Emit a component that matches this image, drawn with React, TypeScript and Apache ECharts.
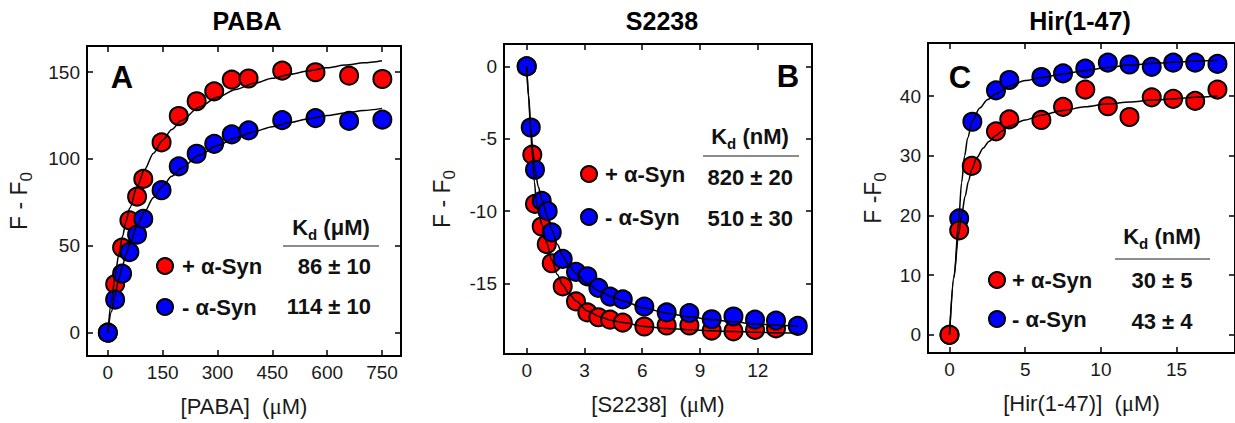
import React, { useEffect, useRef } from "react";
import * as echarts from "echarts";

const FONT = "'Liberation Sans', Arial, Helvetica, sans-serif";
const SERIF = "'Liberation Serif', 'Times New Roman', serif";
const RED = "#ff0000";
const BLUE = "#0000ff";

// ---------- Panel A: PABA ----------
const pabaX = [0, 20, 39, 59, 80, 97, 147, 194, 243, 291, 339, 385, 477, 568, 660, 751];
const pabaPlus = [0, 28, 49, 64.7, 78.3, 88.5, 109.5, 124.7, 133.2, 138.9, 145.6, 146.3, 150.8, 149.9, 147.9, 146];
const pabaMinus = [0, 19, 34, 46.4, 56.4, 65.5, 82, 95.7, 103, 108.7, 114.1, 116.4, 122.3, 123.5, 121.9, 122.6];
const pabaFitX = [0, 10, 20, 30, 40, 50, 60, 80, 100, 125, 150, 175, 200, 250, 300, 350, 400, 450, 500, 550, 600, 650, 700, 750];
const pabaFitPlus = [0, 18.2, 32.9, 45.1, 55.4, 64.1, 71.7, 84.0, 93.8, 103.3, 110.8, 116.9, 122.0, 129.8, 135.5, 140.0, 143.5, 146.4, 148.8, 150.8, 152.5, 154.0, 155.3, 156.5];
const pabaFitMinus = [0, 12.0, 22.2, 31.0, 38.6, 45.3, 51.3, 61.3, 69.5, 77.8, 84.5, 90.0, 94.7, 102.1, 107.8, 112.2, 115.7, 118.6, 121.1, 123.2, 125.0, 126.5, 127.9, 129.1];
const pabaTicksX = [0, 150, 300, 450, 600, 750];
const pabaTicksY = [0, 50, 100, 150];

// ---------- Panel B: S2238 ----------
const s2238PlusX = [0, 0.29, 0.43, 0.78, 1.04, 1.3, 1.87, 2.56, 3.15, 3.72, 4.33, 4.99, 6.11, 7.27, 8.45, 9.61, 10.74, 11.86, 12.95];
const s2238Plus = [0, -6.1, -9.5, -11.06, -12.28, -13.6, -15.2, -16.24, -17.0, -17.33, -17.5, -17.7, -17.97, -17.9, -17.9, -18.25, -18.3, -18.2, -18.1];
const s2238MinusX = [0, 0.21, 0.43, 0.78, 1.09, 1.3, 1.87, 2.56, 3.15, 3.72, 4.33, 4.99, 6.11, 7.27, 8.45, 9.61, 10.74, 11.86, 12.95, 14.08];
const s2238Minus = [0, -4.22, -7.14, -9.29, -10.0, -11.47, -13.3, -14.2, -14.5, -15.3, -15.9, -16.1, -16.6, -17.0, -17.05, -17.47, -17.28, -17.5, -17.56, -17.93];
const s2238FitPlusX = [0, 0.1, 0.2, 0.29, 0.4, 0.5, 0.65, 0.78, 1.04, 1.3, 1.6, 1.87, 2.2, 2.56, 3.15, 3.81, 4.4, 4.99, 6.11, 7.27, 8.45, 9.61, 10.74, 11.86, 12.95, 14.08];
const s2238FitPlus = [0, -2.2, -4.3, -6.1, -8.0, -9.3, -10.3, -10.9, -12.2, -13.4, -14.4, -15.1, -15.7, -16.2, -16.9, -17.3, -17.55, -17.7, -17.97, -18.1, -18.2, -18.27, -18.32, -18.36, -18.4, -18.43];
const s2238FitMinusX = [0, 0.1, 0.21, 0.32, 0.43, 0.6, 0.78, 1.09, 1.3, 1.6, 1.87, 2.2, 2.56, 3.15, 3.81, 4.4, 4.99, 6.11, 7.27, 8.45, 9.61, 10.74, 11.86, 12.95, 14.08];
const s2238FitMinus = [0, -2.0, -4.2, -5.8, -7.1, -8.3, -9.2, -10.4, -11.3, -12.3, -13.1, -13.75, -14.3, -15.0, -15.55, -15.9, -16.2, -16.7, -17.05, -17.3, -17.5, -17.65, -17.8, -17.88, -17.93];
const s2238TicksX = [0, 3, 6, 9, 12];
const s2238TicksY = [0, -5, -10, -15];

// ---------- Panel C: Hir(1-47) ----------
const hirMinusX = [0, 0.64, 1.51, 3.07, 3.95, 6.07, 7.5, 8.97, 10.46, 11.89, 13.36, 14.78, 16.23, 17.7];
const hirMinus = [0, 19.5, 35.7, 40.95, 42.7, 43.2, 43.8, 44.6, 45.6, 45.3, 44.9, 45.6, 45.6, 45.4];
const hirPlusX = [0, 0.64, 1.47, 3.07, 3.95, 6.07, 7.5, 8.97, 10.46, 11.89, 13.36, 14.78, 16.23, 17.7];
const hirPlus = [0, 17.5, 28.3, 34.1, 36.1, 36.0, 38.2, 41.1, 38.3, 36.5, 39.8, 39.55, 39.2, 41.1];
const hirFitMinusX = [0, 0.3, 0.6, 0.8, 1.0, 1.2, 1.5, 2.0, 2.5, 3.07, 3.95, 5.0, 6.07, 7.5, 8.97, 10.46, 11.89, 13.5, 15.0, 16.5, 17.7];
const hirFitMinus = [0, 9.5, 19.0, 25.5, 30.0, 33.0, 35.8, 38.0, 39.4, 40.4, 41.7, 42.6, 43.1, 43.7, 44.3, 44.8, 45.2, 45.5, 45.7, 45.9, 46.0];
const hirFitPlusX = [0, 0.3, 0.6, 0.8, 1.03, 1.25, 1.47, 1.8, 2.24, 2.6, 3.07, 3.5, 3.95, 5.0, 6.07, 7.5, 8.97, 10.46, 11.89, 13.5, 14.85, 16.3, 17.7];
const hirFitPlus = [0, 10.0, 16.8, 20.0, 23.2, 25.7, 27.7, 29.7, 31.3, 32.4, 33.4, 34.2, 35.0, 36.0, 36.8, 37.6, 38.2, 38.7, 39.0, 39.35, 39.55, 39.8, 40.0];
const hirTicksX = [0, 5, 10, 15];
const hirTicksY = [0, 10, 20, 30, 40];

const zip = (xs: number[], ys: number[]) => xs.map((x, i) => [x, ys[i]]);

function makeAxis(
  kind: "x" | "y",
  gridIndex: number,
  min: number,
  max: number,
  ticks: number[],
  mirror: boolean,
  name?: string,
  nameGap?: number,
  rich?: any
) {
  const ax: any = {
    type: "value",
    gridIndex,
    min,
    max,
    position: kind === "x" ? (mirror ? "top" : "bottom") : mirror ? "right" : "left",
    axisLine: { show: false, onZero: false },
    splitLine: { show: false },
    axisTick: {
      show: true,
      inside: true,
      length: 6,
      customValues: ticks,
      lineStyle: { color: "#000", width: 1.5 },
    },
    axisLabel: {
      show: !mirror,
      customValues: ticks,
      fontFamily: FONT,
      fontSize: 19,
      color: "#1a1a1a",
      margin: 7,
    },
  };
  if (name && !mirror) {
    ax.name = name;
    ax.nameLocation = "middle";
    ax.nameGap = nameGap;
    ax.nameTextStyle = {
      fontFamily: FONT,
      fontSize: kind === "x" ? 22 : 23,
      color: "#1a1a1a",
      rich,
    };
  }
  return ax;
}

const xRich = { mu: { fontFamily: SERIF, fontSize: 23, color: "#1a1a1a" } };
const yRich = {
  m: { fontFamily: FONT, fontSize: 23, lineHeight: 23, verticalAlign: "top", color: "#1a1a1a" },
  s: { fontFamily: FONT, fontSize: 17, lineHeight: 17, padding: [11, 0, 0, 0], verticalAlign: "top", color: "#1a1a1a" },
};

function scatter(xi: number, data: number[][], color: string) {
  return {
    type: "scatter",
    xAxisIndex: xi,
    yAxisIndex: xi,
    data,
    symbol: "circle",
    symbolSize: 18,
    itemStyle: { color, borderColor: "#000", borderWidth: 2, opacity: 1 },
    z: 2,
  };
}
function fit(xi: number, data: number[][]) {
  return {
    type: "line",
    xAxisIndex: xi,
    yAxisIndex: xi,
    data,
    showSymbol: false,
    symbol: "none",
    smooth: 0.3,
    smoothMonotone: "x",
    lineStyle: { color: "#000", width: 1.5 },
    z: 3,
    silent: true,
  };
}

function legendBlock(
  cx: number,
  cyPlus: number,
  cyMinus: number,
  textX: number,
  kdCx: number,
  kdY: number,
  kdUnit: string,
  lineX1: number,
  lineX2: number,
  lineY: number,
  valX: number,
  valAlign: string,
  valPlus: string,
  valMinus: string,
  valYPlus: number,
  valYMinus: number
) {
  const bold = { fontFamily: FONT, fontWeight: "bold", fontSize: 22, fill: "#111" };
  const txt = (x: number, y: number, text: string, align: string) => ({
    type: "text",
    x,
    y,
    style: { ...bold, text, align, verticalAlign: "middle", textAlign: align, textVerticalAlign: "middle" },
  });
  return [
    { type: "circle", shape: { cx, cy: cyPlus, r: 8 }, style: { fill: RED, stroke: "#000", lineWidth: 2 } },
    { type: "circle", shape: { cx, cy: cyMinus, r: 8 }, style: { fill: BLUE, stroke: "#000", lineWidth: 2 } },
    txt(textX, cyPlus, "+ α-Syn", "left"),
    txt(textX, cyMinus, "- α-Syn", "left"),
    {
      type: "text",
      x: kdCx,
      y: kdY,
      style: {
        text: "{k|K}{d|d}{k| (" + kdUnit + ")}",
        align: "center",
        verticalAlign: "middle",
        textAlign: "center",
        textVerticalAlign: "middle",
        fill: "#111",
        rich: {
          k: { fontFamily: FONT, fontWeight: "bold", fontSize: 22, lineHeight: 22, verticalAlign: "top", fill: "#111" },
          d: { fontFamily: FONT, fontWeight: "bold", fontSize: 15, lineHeight: 15, padding: [11, 0, 0, 0], verticalAlign: "top", fill: "#111" },
        },
      },
    },
    { type: "line", shape: { x1: lineX1, y1: lineY, x2: lineX2, y2: lineY }, style: { stroke: "#666", lineWidth: 1.5 } },
    txt(valX, valYPlus, valPlus, valAlign),
    txt(valX, valYMinus, valMinus, valAlign),
  ];
}

function panelLetter(x: number, y: number, t: string) {
  return {
    type: "text",
    x,
    y,
    style: {
      text: t,
      fontFamily: FONT,
      fontWeight: "bold",
      fontSize: 31,
      fill: "#000",
      align: "center",
      verticalAlign: "middle",
      textAlign: "center",
      textVerticalAlign: "middle",
    },
  };
}

export default function App() {
  const ref = useRef<HTMLDivElement>(null);
  useEffect(() => {
    if (!ref.current) return;
    const chart = echarts.init(ref.current, undefined, { renderer: "svg" });
    const gridStyle = { show: true, borderColor: "#000", borderWidth: 2, backgroundColor: "transparent", containLabel: false };
    const titleStyle = { fontFamily: FONT, fontWeight: "bold", fontSize: 25, color: "#000" };
    const option: any = {
      animation: false,
      backgroundColor: "#fff",
      title: [
        { text: "PABA", left: 247, top: 8, textAlign: "center", padding: 0, textStyle: titleStyle },
        { text: "S2238", left: 662, top: 8, textAlign: "center", padding: 0, textStyle: titleStyle },
        { text: "Hir(1-47)", left: 1080, top: 8, textAlign: "center", padding: 0, textStyle: titleStyle },
      ],
      grid: [
        { ...gridStyle, left: 87, top: 46, width: 314, height: 310 },
        { ...gridStyle, left: 504, top: 44, width: 308, height: 310 },
        { ...gridStyle, left: 928, top: 43, width: 308, height: 310 },
      ],
      xAxis: [
        makeAxis("x", 0, -57, 802, pabaTicksX, false, "[PABA]  ({mu|μ}M)", 39, xRich),
        makeAxis("x", 1, -1.18, 14.82, s2238TicksX, false, "[S2238]  ({mu|μ}M)", 39, xRich),
        makeAxis("x", 2, -1.42, 18.86, hirTicksX, false, "[Hir(1-47)]  ({mu|μ}M)", 39, xRich),
        makeAxis("x", 0, -57, 802, pabaTicksX, true),
        makeAxis("x", 1, -1.18, 14.82, s2238TicksX, true),
        makeAxis("x", 2, -1.42, 18.86, hirTicksX, true),
      ],
      yAxis: [
        makeAxis("y", 0, -13.4, 165, pabaTicksY, false, "{m|F - F}{s|0}", 57, yRich),
        makeAxis("y", 1, -19.87, 1.55, s2238TicksY, false, "{m|F - F}{s|0}", 51, yRich),
        makeAxis("y", 2, -3.05, 48.9, hirTicksY, false, "{m|F -F}{s|0}", 44, yRich),
        makeAxis("y", 0, -13.4, 165, pabaTicksY, true),
        makeAxis("y", 1, -19.87, 1.55, s2238TicksY, true),
        makeAxis("y", 2, -3.05, 48.9, hirTicksY, true),
      ],
      series: [
        scatter(0, zip(pabaX, pabaPlus), RED),
        scatter(0, zip(pabaX, pabaMinus), BLUE),
        fit(0, zip(pabaFitX, pabaFitPlus)),
        fit(0, zip(pabaFitX, pabaFitMinus)),
        scatter(1, zip(s2238PlusX, s2238Plus), RED),
        scatter(1, zip(s2238MinusX, s2238Minus), BLUE),
        fit(1, zip(s2238FitPlusX, s2238FitPlus)),
        fit(1, zip(s2238FitMinusX, s2238FitMinus)),
        scatter(2, zip(hirMinusX, hirMinus), BLUE),
        scatter(2, zip(hirPlusX, hirPlus), RED),
        fit(2, zip(hirFitPlusX, hirFitPlus)),
        fit(2, zip(hirFitMinusX, hirFitMinus)),
      ],
      graphic: [
        panelLetter(122, 77, "A"),
        panelLetter(788, 76, "B"),
        panelLetter(960, 77, "C"),
        ...legendBlock(165, 266, 307, 182, 331, 227, "μM", 283, 379, 246, 371, "right", "86 ± 10", "114 ± 10", 266, 306),
        ...legendBlock(589, 174, 217, 605, 750, 136, "nM", 703, 799, 156, 793, "right", "820 ± 20", "510 ± 30", 177, 218),
        ...legendBlock(997, 280, 319, 1012, 1162, 236, "nM", 1115, 1210, 259, 1162, "center", "30 ± 5", "43 ± 4", 280, 321),
      ],
    };
    chart.setOption(option);
    return () => chart.dispose();
  }, []);
  return (
    <div
      ref={ref}
      style={{ position: "fixed", left: 0, top: 0, width: 1235, height: 423, background: "#fff" }}
    />
  );
}
